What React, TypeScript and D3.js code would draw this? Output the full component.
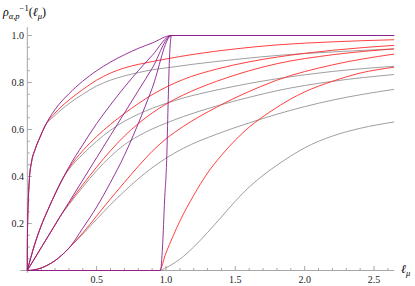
import React from 'react';
import * as d3 from 'd3';

type Pt = [number, number];

// tick values
const xMajor = [0.5, 1.0, 1.5, 2.0, 2.5];
const xMinor = d3.range(1, 27).map((i) => i / 10);
const yMajor = [0.2, 0.4, 0.6, 0.8, 1.0];
const yMinor = d3.range(1, 21).map((i) => i / 20);

// shared starts of each family
const start1: Pt[] = [[0, 0], [0.001, 0.14], [0.003, 0.22], [0.006, 0.28], [0.015, 0.39], [0.03, 0.46], [0.056, 0.515], [0.09, 0.565], [0.128, 0.615]];
const start2: Pt[] = [[0, 0], [0.05, 0.105], [0.1, 0.19], [0.15, 0.26], [0.2, 0.325], [0.25, 0.385]];
const start3: Pt[] = [[0, 0], [0.1, 0.097], [0.2, 0.194], [0.236, 0.229]];
const start4: Pt[] = [[0, 0], [0.05, 0.0026], [0.1, 0.0105], [0.15, 0.024], [0.2, 0.042], [0.25, 0.066], [0.3, 0.095]];
const start5: Pt[] = [[0, 0], [0.952, 0]];

const flatTop: Pt[] = [[1.04, 1.0], [2.645, 1.0]];

// gray curves
const gray1: Pt[] = [...start1, [0.2, 0.66], [0.3, 0.71], [0.4, 0.75], [0.5, 0.785], [0.6, 0.81], [0.7, 0.828], [0.8, 0.842], [0.9, 0.854], [1.0, 0.862], [1.2, 0.878], [1.5, 0.898], [1.8, 0.915], [2.2, 0.93], [2.645, 0.943]];
const gray2: Pt[] = [...start2, [0.3, 0.43], [0.4, 0.495], [0.5, 0.55], [0.6, 0.597], [0.7, 0.635], [0.8, 0.665], [0.9, 0.69], [1.0, 0.711], [1.125, 0.734], [1.365, 0.768], [1.6, 0.796], [1.8, 0.816], [2.2, 0.847], [2.645, 0.869]];
const gray3: Pt[] = [...start3, [0.3, 0.28], [0.4, 0.355], [0.5, 0.425], [0.6, 0.485], [0.7, 0.535], [0.8, 0.572], [0.9, 0.602], [1.0, 0.627], [1.125, 0.655], [1.365, 0.7], [1.6, 0.737], [1.8, 0.765], [2.2, 0.805], [2.645, 0.834]];
const gray4: Pt[] = [...start4, [0.4, 0.155], [0.5, 0.218], [0.6, 0.28], [0.7, 0.337], [0.8, 0.39], [0.9, 0.437], [1.0, 0.478], [1.125, 0.52], [1.365, 0.58], [1.6, 0.628], [1.8, 0.665], [2.2, 0.725], [2.645, 0.771]];
const gray5: Pt[] = [...start5, [1.0, 0.012], [1.1, 0.048], [1.2, 0.1], [1.3, 0.162], [1.4, 0.228], [1.5, 0.295], [1.6, 0.355], [1.7, 0.405], [1.8, 0.448], [1.9, 0.487], [2.0, 0.522], [2.2, 0.572], [2.4, 0.605], [2.645, 0.632]];

// red curves
const red1: Pt[] = [...start1, [0.2, 0.67], [0.3, 0.725], [0.4, 0.77], [0.5, 0.81], [0.6, 0.84], [0.7, 0.862], [0.8, 0.877], [0.9, 0.889], [1.0, 0.9], [1.2, 0.92], [1.5, 0.943], [1.8, 0.96], [2.2, 0.973], [2.645, 0.982]];
const red2: Pt[] = [...start2, [0.3, 0.435], [0.4, 0.51], [0.5, 0.57], [0.6, 0.622], [0.7, 0.668], [0.8, 0.71], [0.9, 0.748], [1.0, 0.78], [1.125, 0.813], [1.365, 0.857], [1.6, 0.888], [1.8, 0.908], [2.2, 0.937], [2.645, 0.958]];
const red3: Pt[] = [...start3, [0.3, 0.285], [0.4, 0.365], [0.5, 0.44], [0.6, 0.51], [0.7, 0.572], [0.8, 0.625], [0.9, 0.67], [1.0, 0.708], [1.125, 0.747], [1.365, 0.805], [1.6, 0.85], [1.8, 0.88], [2.2, 0.918], [2.645, 0.943]];
const red4: Pt[] = [...start4, [0.4, 0.16], [0.5, 0.232], [0.6, 0.305], [0.7, 0.375], [0.8, 0.443], [0.9, 0.507], [1.0, 0.56], [1.125, 0.613], [1.365, 0.695], [1.6, 0.762], [1.8, 0.81], [2.2, 0.875], [2.645, 0.921]];
const red5: Pt[] = [...start5, [1.0, 0.075], [1.05, 0.145], [1.1, 0.21], [1.2, 0.32], [1.3, 0.415], [1.4, 0.49], [1.5, 0.555], [1.6, 0.61], [1.75, 0.675], [1.9, 0.73], [2.0, 0.76], [2.2, 0.805], [2.4, 0.84], [2.645, 0.865]];

// purple curves
const purple1: Pt[] = [...start1, [0.2, 0.685], [0.3, 0.752], [0.4, 0.806], [0.5, 0.85], [0.6, 0.887], [0.7, 0.918], [0.8, 0.945], [0.9, 0.968], ...flatTop];
const purple2: Pt[] = [...start2, [0.3, 0.44], [0.4, 0.535], [0.5, 0.625], [0.6, 0.705], [0.7, 0.78], [0.8, 0.85], [0.9, 0.915], ...flatTop];
const purple3: Pt[] = [...start3, [0.3, 0.29], [0.4, 0.385], [0.5, 0.48], [0.6, 0.575], [0.7, 0.67], [0.8, 0.765], [0.9, 0.86], ...flatTop];
const purple4: Pt[] = [...start4, [0.4, 0.18], [0.5, 0.27], [0.6, 0.375], [0.7, 0.49], [0.8, 0.625], [0.9, 0.775], ...flatTop];
const purple5: Pt[] = [...start5, [0.96, 0], [0.975, 0.1], [0.99, 0.3], [1.005, 0.47], [1.015, 0.7], [1.025, 0.9], ...flatTop];

const grays = [gray1, gray2, gray3, gray4, gray5];
const reds = [red1, red2, red3, red4, red5];
const purples = [purple1, purple2, purple3, purple4, purple5];

const width = 415;
const height = 286;

export default function App() {
  const x = d3.scaleLinear().domain([0, 2.5]).range([27.3, 374]);
  const y = d3.scaleLinear().domain([0, 1]).range([270.5, 35.5]);

  const line = d3
    .line<Pt>()
    .x((d) => x(d[0]))
    .y((d) => y(d[1]))
    .curve(d3.curveMonotoneX);

  const serif = "'Liberation Serif', 'DejaVu Serif', 'Times New Roman', serif";
  const axisColor = '#a6a6a6';

  return (
    <svg width={width} height={height} style={{ position: 'absolute', left: 0, top: 0, fontFamily: serif }}>
      {/* axes */}
      <line x1={x(-0.05)} x2={x(2.645)} y1={y(0)} y2={y(0)} stroke={axisColor} strokeWidth={1} />
      <line x1={x(0)} x2={x(0)} y1={y(-0.01)} y2={y(1.035)} stroke={axisColor} strokeWidth={1} />
      {xMinor.map((t) => {
        const major = xMajor.some((m) => Math.abs(m - t) < 1e-6);
        return <line key={'xt' + t} x1={x(t)} x2={x(t)} y1={y(0)} y2={y(0) - (major ? 4.5 : 2.5)} stroke={axisColor} />;
      })}
      {yMinor.map((t) => {
        const major = yMajor.some((m) => Math.abs(m - t) < 1e-6);
        return <line key={'yt' + t} x1={x(0)} x2={x(0) + (major ? 4.5 : 2.5)} y1={y(t)} y2={y(t)} stroke={axisColor} />;
      })}
      <g style={{ fontFamily: serif }} fill="#222">
        {xMajor.map((t) => (
          <text key={'xl' + t} x={x(t)} y={283} textAnchor="middle" fontSize={10}>
            {d3.format('.1f')(t)}
          </text>
        ))}
        {yMajor.map((t) => (
          <text key={'yl' + t} x={24} y={y(t) + 3.5} textAnchor="end" fontSize={10}>
            {d3.format('.1f')(t)}
          </text>
        ))}
      </g>

      {/* curves */}
      {grays.map((c, i) => (
        <path key={'g' + i} d={line(c) ?? ''} fill="none" stroke="#949494" strokeWidth={0.9} />
      ))}
      {reds.map((c, i) => (
        <path key={'r' + i} d={line(c) ?? ''} fill="none" stroke="#ff2a2a" strokeWidth={0.9} />
      ))}
      {purples.map((c, i) => (
        <path key={'p' + i} d={line(c) ?? ''} fill="none" stroke="#8a1f8e" strokeWidth={0.9} />
      ))}

      {/* axis labels */}
      <g style={{ fontFamily: serif }}>
        <text x={3} y={16} fontSize={12} fontStyle="italic">
          ρ
          <tspan fontSize={8.5} dy={3}>α,p</tspan>
          <tspan fontSize={8.5} fontStyle="normal" dy={-8}>−1</tspan>
          <tspan fontSize={12} fontStyle="normal" dy={5}>(</tspan>
          <tspan>ℓ</tspan>
          <tspan fontSize={8.5} dy={3}>μ</tspan>
          <tspan fontSize={12} fontStyle="normal" dy={-3}>)</tspan>
        </text>
        <text x={401} y={273} fontSize={12} fontStyle="italic">
          ℓ<tspan fontSize={8.5} dy={3}>μ</tspan>
        </text>
      </g>
    </svg>
  );
}
